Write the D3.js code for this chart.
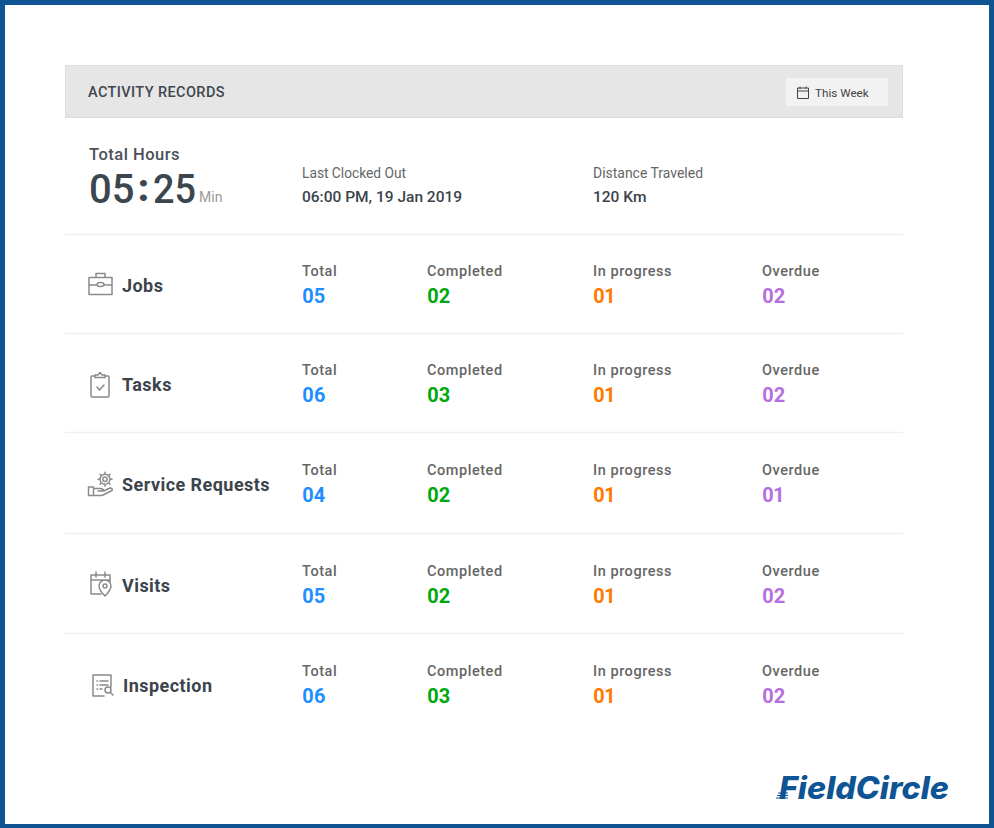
<!DOCTYPE html>
<meta charset="utf-8">
<style>
html,body{margin:0;padding:0;background:#fff;}
svg{display:block;}
text{font-family:Roboto,sans-serif;}
.ico{fill:none;stroke:#8a8a8a;stroke-width:1.5;stroke-linejoin:round;stroke-linecap:round;}
.rowName{font-size:18px;font-weight:700;fill:#3c444b;letter-spacing:.45px;}
.colHead{font-size:14.5px;font-weight:500;fill:#666;letter-spacing:.55px;}
.colVal{font-size:20px;font-weight:700;font-variant-numeric:proportional-nums;}
</style>
<body>
<script src="https://d3js.org/d3.v7.min.js"></script>
<script>
// ---------- data ------------
var rows = [
    {name:"Jobs", icon:"jobs", Total:"05", Completed:"02", "In progress":"01", Overdue:"02"},
    {name:"Tasks", icon:"tasks", Total:"06", Completed:"03", "In progress":"01", Overdue:"02"},
    {name:"Service Requests", icon:"service", Total:"04", Completed:"02", "In progress":"01", Overdue:"01"},
    {name:"Visits", icon:"visits", Total:"05", Completed:"02", "In progress":"01", Overdue:"02"},
    {name:"Inspection", icon:"inspection", Total:"06", Completed:"03", "In progress":"01", Overdue:"02"}
];
var cols = ["Total","Completed","In progress","Overdue"];
var color = {Total:"#1e8fff", Completed:"#00a80f", "In progress":"#ff7a00", Overdue:"#b56fe0"};

var x = d3.scaleOrdinal().domain(cols).range([302,427,593,762]);
var y = d3.scaleOrdinal().domain(rows.map(d => d.name)).range([285,384,484,585,685]);
var sep = [234,333,432,533,633];

var svg = d3.select("body").append("svg").attr("width",994).attr("height",828);

// frame
svg.append("rect").attr("x",2.5).attr("y",2.5).attr("width",989).attr("height",824)
    .attr("fill","#fff").attr("stroke","#0f5595").attr("stroke-width",5);

// header
svg.append("rect").attr("x",65.5).attr("y",65.5).attr("width",837).attr("height",52)
    .attr("fill","#e6e6e6").attr("stroke","#dedede");
svg.append("text").attr("x",88).attr("y",96.5).attr("font-size",14.5).attr("font-weight",500)
    .attr("letter-spacing",.4).attr("fill","#3f474e").text("ACTIVITY RECORDS");
svg.append("rect").attr("x",786).attr("y",78).attr("width",102).attr("height",28).attr("fill","#f2f2f2");
svg.append("path").attr("d","M797.5 88H808.5V98.5H797.5ZM797.5 91H808.5M800 86.5V89M806 86.5V89")
    .attr("fill","none").attr("stroke","#444").attr("stroke-width",1);
svg.append("text").attr("x",815).attr("y",97).attr("font-size",11.7).attr("fill","#444").text("This Week");

// summary
svg.append("text").attr("x",89).attr("y",159.5).attr("font-size",16.5).attr("font-weight",500)
    .attr("letter-spacing",.5).attr("fill","#4a5157").text("Total Hours");
svg.append("text").attr("x",89).attr("y",203).attr("font-size",40).attr("font-weight",500)
    .attr("fill","#3c464e").text("05");
svg.append("text").attr("x",143.5).attr("y",201).attr("font-size",38).attr("font-weight",900)
    .attr("text-anchor","middle").attr("fill","#3c464e").text(":");
svg.append("text").attr("x",153).attr("y",203).attr("font-size",40).attr("font-weight",500)
    .attr("textLength",43).attr("lengthAdjust","spacingAndGlyphs").attr("fill","#3c464e").text("25");
svg.append("text").attr("x",199).attr("y",202).attr("font-size",14).attr("fill","#9a9a9a").text("Min");

var info = [
    {x:302, head:"Last Clocked Out", val:"06:00 PM, 19 Jan 2019"},
    {x:593, head:"Distance Traveled", val:"120 Km"}
];
svg.selectAll(".info").data(info).enter().append("g").attr("class","info").each(function(d){
    var g = d3.select(this);
    g.append("text").attr("x",d.x).attr("y",177.5).attr("font-size",14).attr("font-weight",400)
        .attr("fill","#666").attr("textLength",d.x==302 ? 104 : 110).attr("lengthAdjust","spacingAndGlyphs").text(d.head);
    g.append("text").attr("x",d.x).attr("y",201.5).attr("font-size",15.5).attr("font-weight",500)
        .attr("fill","#3c444b").text(d.val);
});

// separators
svg.selectAll(".sep").data(sep).enter().append("line").attr("class","sep")
    .attr("x1",65).attr("x2",903).attr("y1",d => d+0.5).attr("y2",d => d+0.5)
    .attr("stroke","#f0f0f0").attr("stroke-width",1.5);

// rows
var row = svg.selectAll(".row").data(rows).enter().append("g").attr("class","row");
row.append("text").attr("class","rowName")
    .attr("x",d => d.name=="Inspection" ? 123 : 122)
    .attr("y",d => y(d.name)+6.5).text(d => d.name);

cols.forEach(function(c){
    row.append("text").attr("class","colHead").attr("x",x(c)).attr("y",d => y(d.name)-9.5).text(c);
    row.append("text").attr("class","colVal").attr("x",x(c)).attr("y",d => y(d.name)+17.5)
        .attr("fill",color[c]).text(d => d[c]);
});

// icons, 0,0 is the row centre line at the icon's left edge
var icons = {
    jobs:"M1 -8.5H24V8.5H1ZM1 -1H9M16 -1H24M9 -1.5a3.5 2 0 0 0 7 0a3.5 2 0 0 0 -7 0M8 -8.5V-12.5H17V-8.5",
    tasks:"M5 -9H3Q2 -9 2 -8V11Q2 12 3 12H19Q20 12 20 11V-8Q20 -9 19 -9H17M6 -7.5V-10H9L11 -12.5L13 -10H16V-7.5ZM8 2L10.5 5L15 0",
    service:"M0.5 2H5.5V10.5H0.5ZM5.5 3.5H12Q15.5 3.5 15.5 6H10M15.5 6L22 3Q25 3 24 5.5L14 10.5H5.5"
        +"M12 -5.7a5 5 0 1 0 10 0a5 5 0 1 0 -10 0M14.8 -5.7a2.2 2.2 0 1 0 4.4 0a2.2 2.2 0 1 0 -4.4 0"
        +"M17 -10.7V-12.7M17 -0.7V1.3M12 -5.7H10M22 -5.7H24M13.5 -9.2L12 -10.7M20.5 -9.2L22 -10.7M13.5 -2.2L12 -0.7M20.5 -2.2L22 -0.7",
    visits:"M12 9H2V-10H21V-3M2 -5H21M7 -13V-8M16 -13V-8M16 11Q10 5 10 1a6 6 0 0 1 12 0Q22 5 16 11ZM14 1a2 2 0 1 0 4 0a2 2 0 1 0 -4 0",
    inspection:"M14 10H3V-11H21V1M7 -5H7.5M10 -5H18M7 -1H7.5M10 -1H18M7 3H7.5M10 3H12M15 4a3 3 0 1 0 6 0a3 3 0 1 0 -6 0M20.5 6.5L23 9"
};
var iconX = {jobs:88, tasks:89, service:88, visits:89, inspection:90};
row.append("path").attr("class","ico")
    .attr("transform",d => "translate("+iconX[d.icon]+","+(y(d.name)+(d.icon=="visits"?0:1))+")")
    .attr("d",d => icons[d.icon]);

// logo
svg.append("text").attr("x",779).attr("y",799).attr("font-size",31).attr("font-weight",800)
    .attr("font-style","italic").attr("fill","#0f5595").attr("textLength",170).attr("lengthAdjust","spacingAndGlyphs")
    .style("font-family","Inter,Roboto,sans-serif").text("FieldCircle");
svg.selectAll(".speed").data([0,1,2]).enter().append("line").attr("class","speed")
    .attr("x1",d => 776+d).attr("x2",788).attr("y1",d => 798-d*2.5).attr("y2",d => 798-d*2.5)
    .attr("stroke","#0f5595").attr("stroke-width",1);
</script>
</body>
</html>
